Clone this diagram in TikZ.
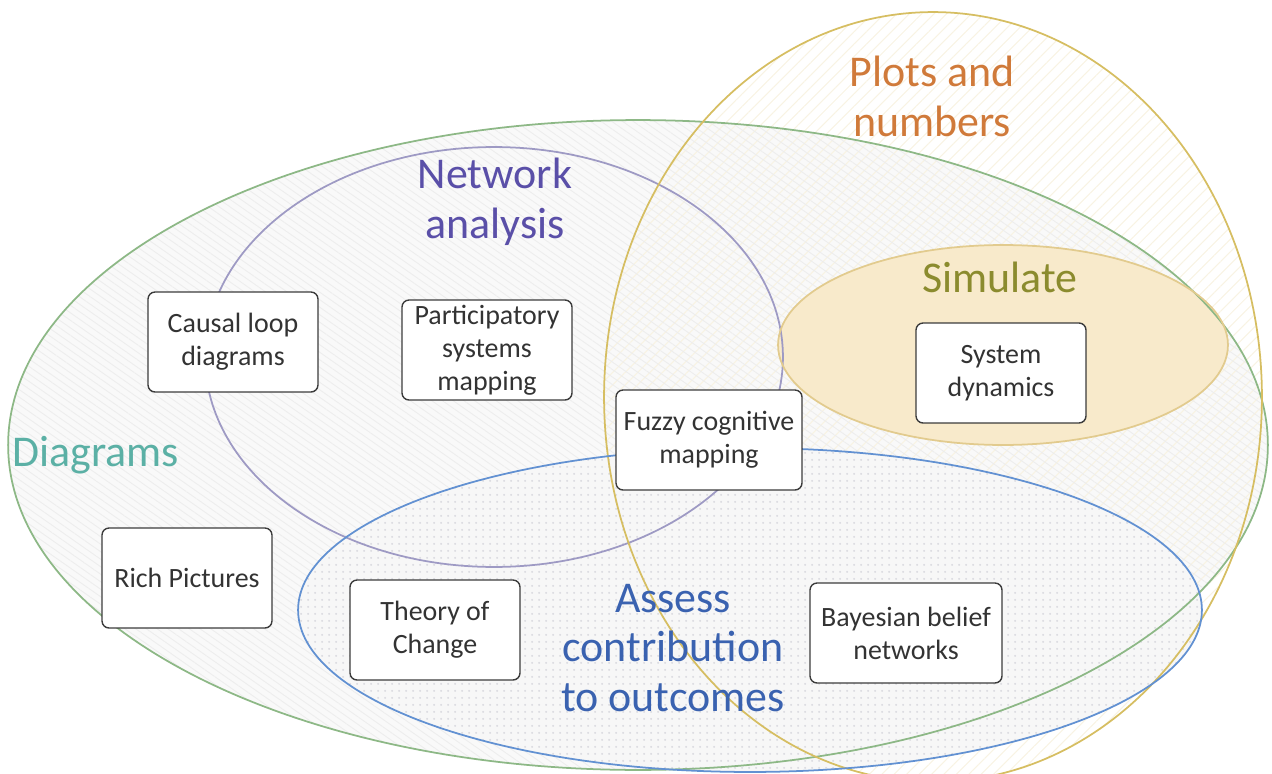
\documentclass[tikz,border=0pt]{standalone}
\usepackage{fontspec}
\setmainfont{Carlito}
\usetikzlibrary{patterns.meta}
\definecolor{dgreen}{HTML}{8DB886}
\definecolor{dteal}{HTML}{5BB0A5}
\definecolor{npurple}{HTML}{9E9AC4}
\definecolor{ntext}{HTML}{5A4FA8}
\definecolor{pgold}{HTML}{D6BE62}
\definecolor{ptext}{HTML}{D07A3A}
\definecolor{sfill}{HTML}{F8EACB}
\definecolor{sline}{HTML}{E2CB8E}
\definecolor{stext}{HTML}{8B8B2E}
\definecolor{ablue}{HTML}{6291D2}
\definecolor{atext}{HTML}{3A62B0}
\definecolor{boxline}{HTML}{3C3C3C}
\tikzset{
  method/.style={draw=boxline, line width=0.8pt, fill=white, rounded corners=0.14cm,
    minimum width=3.4cm, minimum height=2.0cm, align=center, inner sep=2pt,
    font=\fontsize{15.9pt}{18.8pt}\selectfont, text=black!80},
  biglabel/.style={align=center, font=\fontsize{25pt}{28.4pt}\selectfont},
  ring/.style={line width=1pt}
}
\begin{document}
\begin{tikzpicture}[x=0.02cm,y=-0.02cm]
\useasboundingbox (0,0) rectangle (1272,774);
% fills
\fill[black!2.5] (638,445) ellipse [x radius=12.6cm, y radius=6.5cm];
\fill[pattern={Lines[angle=45,distance=5pt,line width=0.6pt]}, pattern color=pgold!18]
  (933,397) ellipse [x radius=6.58cm, y radius=7.7cm];
\fill[pattern={Lines[angle=-35,distance=3.5pt,line width=0.5pt]}, pattern color=black!7]
  (638,445) ellipse [x radius=12.6cm, y radius=6.5cm];
\fill[black!3] (750,610) ellipse [x radius=9.04cm, y radius=3.24cm];
\fill[pattern={Dots[radius=0.7pt,distance=4pt]}, pattern color=blue!14!black!14]
  (750,610) ellipse [x radius=9.04cm, y radius=3.24cm];
\fill[sfill] (1003,345) ellipse [x radius=4.5cm, y radius=2.0cm];
% outlines
\draw[ring, dgreen] (638,445) ellipse [x radius=12.6cm, y radius=6.5cm];
\draw[ring, npurple] (494,357) ellipse [x radius=5.78cm, y radius=4.2cm];
\draw[ring, pgold] (933,397) ellipse [x radius=6.58cm, y radius=7.7cm];
\draw[ring, sline] (1003,345) ellipse [x radius=4.5cm, y radius=2.0cm];
\draw[ring, ablue] (750,610) ellipse [x radius=9.04cm, y radius=3.24cm];
% labels
\node[biglabel, text=ptext] (plots) at (932,96) {Plots and\\numbers};
\node[biglabel, text=ntext] (net) at (495,202) {Network\\analysis};
\node[biglabel, text=stext] (sim) at (1000,277) {Simulate};
\node[biglabel, text=dteal, anchor=west] (diag) at (6,455) {Diagrams};
\node[biglabel, text=atext] (assess) at (673,648) {Assess\\contribution\\to outcomes};
% boxes
\node[method] (cld) at (233,342) {Causal loop\\diagrams};
\node[method] (psm) at (487,350) {Participatory\\systems\\mapping};
\node[method, minimum width=3.72cm] (fcm) at (709,440) {Fuzzy cognitive\\mapping};
\node[method] (sd) at (1001,373) {System\\dynamics};
\node[method] (rich) at (187,578) {Rich Pictures};
\node[method] (toc) at (435,630) {Theory of\\Change};
\node[method, minimum width=3.84cm] (bbn) at (906,633) {Bayesian belief\\networks};
\end{tikzpicture}
\end{document}
